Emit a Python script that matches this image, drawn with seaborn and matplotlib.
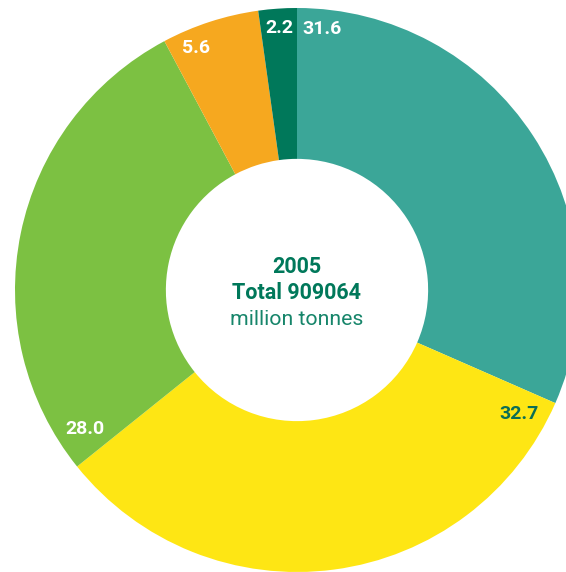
import numpy as np
import matplotlib
matplotlib.use("Agg")
import matplotlib.pyplot as plt
import seaborn as sns

# shares in percent, clockwise from 12 o'clock
labels = ["31.6", "32.7", "28.0", "5.6", "2.2"]
shares = [31.6, 32.7, 28.0, 5.6, 2.2]
colors = ["#3ba698", "#fee614", "#7cc142", "#f6a81f", "#00785a"]
label_colors = ["white", "#0b6e55", "white", "white", "white"]

year = "2005"
total_text = "Total 909064"
unit_text = "million tonnes"

sns.set_theme(style="white")
plt.rcParams["font.family"] = ["Roboto", "DejaVu Sans"]

fig = plt.figure(figsize=(5.66, 5.72), dpi=100)
ax = fig.add_axes([0, 0, 1, 1])

wedges, _ = ax.pie(shares, colors=colors, startangle=90, counterclock=False,
                   radius=1, wedgeprops=dict(width=0.535, linewidth=0))

# labels sit near the outer rim, just past the start of each wedge
total = sum(shares)
start = 0.0
for lab, val, lc in zip(labels, shares, label_colors):
    span = val / total * 360
    ang = start + min(span / 2, 5.5)
    theta = np.deg2rad(90 - ang)
    r = 0.93 if np.sin(theta) > 0 else 0.9
    ax.text(r * np.cos(theta), r * np.sin(theta), lab, ha="center", va="center",
            color=lc, fontsize=14, fontweight="bold")
    start += span

ax.text(0, 0.08, year, ha="center", va="center", color="#00785a", fontsize=15.5, fontweight="bold")
ax.text(0, -0.01, total_text, ha="center", va="center", color="#00785a", fontsize=15.5, fontweight="bold")
ax.text(0, -0.105, unit_text, ha="center", va="center", color="#16856a", fontsize=15.3)

ax.set_xlim(-297 / 282, 269 / 282)
ax.set_ylim(-282 / 282, 290 / 282)
ax.set_aspect("equal")
ax.axis("off")

fig.savefig("out.png", dpi=100)
plt.close("all")
